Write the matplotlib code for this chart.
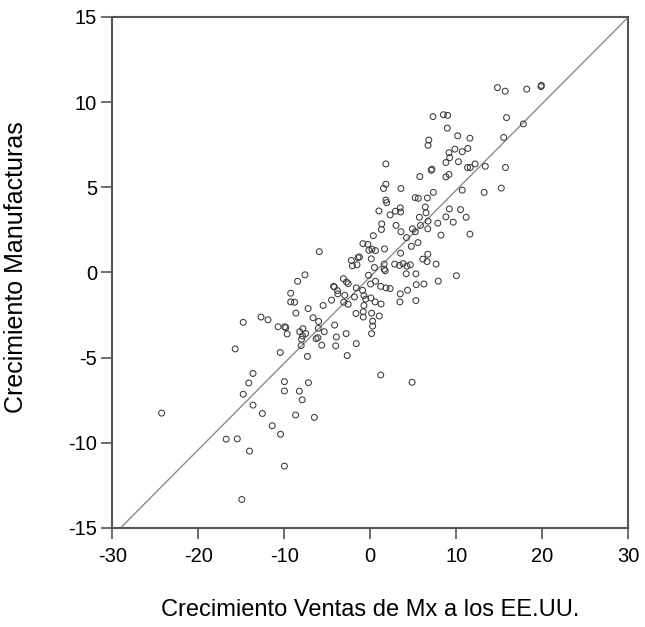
import numpy as np
import matplotlib.pyplot as plt

plt.rcParams['font.family'] = ['Liberation Sans', 'DejaVu Sans']
plt.rcParams['axes.unicode_minus'] = False

# Crecimiento ventas de Mx a EE.UU. (x) vs crecimiento manufacturas (y)
ventas = [
    14.80, 15.69, 18.20, 19.86, 19.90, 7.30, 8.51, 9.00, 15.85, 17.80,
    8.96, 10.17, 11.59, 15.52, 6.81, 6.73, 9.85, 11.35, 9.16, 10.70,
    9.24, 8.80, 10.26, 12.20, 11.31, 11.63, 13.38, 15.73, 1.82, 7.17,
    7.10, 5.76, 8.80, 9.16, 1.82, 1.54, 3.57, 10.70, 13.25, 15.24,
    7.34, 5.23, 5.59, 6.65, 1.82, 1.91, 6.40, 3.49, 1.01, 2.92,
    3.53, 2.31, 9.20, 10.50, 6.49, 5.72, 8.80, 11.15, 6.73, 7.86,
    9.65, 1.34, 3.00, 5.84, 1.30, 4.90, 6.69, 3.57, 5.23, 8.23,
    11.59, 0.36, 4.22, 5.55, 4.78, -0.85, -0.28, 0.20, 0.61, 1.66,
    -0.16, -5.92, 3.53, 6.69, -1.42, -1.26, -2.19, 0.12, 6.12, 6.61,
    -2.07, -1.54, 1.62, 1.62, 2.84, 3.40, 3.81, 4.26, 4.66, 7.66,
    0.49,
    -7.59, -8.44, -3.12, -2.76, -2.56, -0.20, 0.04, 0.61, 1.74, 1.22,
    1.83, 2.31, 4.18, 5.31, 10.02, 5.35, 6.25, 7.91, 4.34, 3.49,
    3.45, 5.31, -9.25, -9.25, -8.80, -8.64, -4.26, -4.18, -3.81, -3.77,
    -1.62, -0.89, -0.73, -0.53, -1.83, 0.08, 0.57, 1.26, -0.73, -3.08,
    -2.56, -2.96, -4.50, -5.48, -7.22, -6.65, -6.00, -6.04, -5.35, -4.14,
    -2.80, -3.94, -1.66, -0.81, -0.81, 0.16, 1.05, 0.28, 0.28, 0.16,
    -1.62, -2.68, -4.02, -5.64, -6.29, -6.09, -7.30, -8.03, -7.99, -7.87,
    -8.19, -7.83, -7.51, -10.71, -9.94, -9.82, -9.66, -12.70, -11.89, -14.77,
    -15.70, -10.47, -13.63, -14.12, -14.77, -13.63, -12.54, -11.40, -10.43, -16.75,
    -15.46, -14.04, -9.98, -14.93, -24.26, -9.98, -9.98, -8.24, -7.91, -7.18,
    -8.68, -6.49, 1.22, 4.87,
]
manufacturas = [
    10.85, 10.64, 10.76, 10.91, 10.98, 9.15, 9.26, 9.22, 9.09, 8.72,
    8.47, 8.02, 7.88, 7.92, 7.77, 7.46, 7.24, 7.28, 7.03, 7.09,
    6.74, 6.45, 6.50, 6.37, 6.16, 6.16, 6.23, 6.16, 6.37, 6.06,
    6.00, 5.63, 5.61, 5.75, 5.18, 4.93, 4.93, 4.83, 4.70, 4.95,
    4.70, 4.39, 4.35, 4.37, 4.25, 4.10, 3.84, 3.79, 3.61, 3.59,
    3.55, 3.38, 3.73, 3.69, 3.50, 3.24, 3.26, 3.24, 3.01, 2.89,
    2.95, 2.85, 2.76, 2.76, 2.52, 2.56, 2.56, 2.39, 2.39, 2.19,
    2.25, 2.16, 2.04, 1.75, 1.53, 1.69, 1.65, 1.36, 1.28, 1.38,
    1.30, 1.22, 1.13, 1.07, 0.87, 0.91, 0.70, 0.80, 0.78, 0.64,
    0.39, 0.45, 0.49, 0.19, 0.49, 0.41, 0.52, 0.37, 0.45, 0.49,
    0.29,
    -0.14, -0.52, -0.37, -0.56, -0.66, -0.17, -0.68, -0.52, 0.10, -0.82,
    -0.91, -0.95, -0.08, -0.08, -0.19, -0.72, -0.68, -0.51, -1.05, -1.26,
    -1.73, -1.65, -1.22, -1.73, -1.75, -2.39, -0.82, -0.85, -1.07, -1.26,
    -0.91, -1.05, -1.36, -1.57, -1.44, -1.50, -1.73, -1.85, -1.94, -1.75,
    -1.87, -1.34, -1.63, -1.94, -2.12, -2.66, -2.88, -3.28, -3.48, -3.09,
    -3.59, -3.79, -2.41, -2.62, -2.31, -2.39, -2.56, -2.86, -3.15, -3.59,
    -4.18, -4.88, -4.31, -4.27, -3.89, -3.83, -4.93, -4.29, -3.92, -3.73,
    -3.48, -3.30, -3.59, -3.19, -3.19, -3.24, -3.61, -2.62, -2.78, -2.93,
    -4.49, -4.70, -5.93, -6.49, -7.15, -7.79, -8.28, -9.00, -9.50, -9.79,
    -9.77, -10.49, -11.37, -13.33, -8.26, -6.41, -6.96, -6.97, -7.48, -6.47,
    -8.37, -8.51, -6.02, -6.45,
]

# recta ajustada
fit_intercept = -0.25
fit_slope = 0.508

x_ticks = [-30, -20, -10, 0, 10, 20, 30]
y_ticks = [-15, -10, -5, 0, 5, 10, 15]

fig = plt.figure(figsize=(6.45, 6.27), dpi=100)
ax = fig.add_axes([0.174, 0.158, 0.800, 0.815])

ax.axline((0, fit_intercept), slope=fit_slope, color='#8c8c8c', lw=1.0, zorder=1)
ax.scatter(ventas, manufacturas, s=18, facecolors='none', edgecolors='#3a3a3a',
           linewidths=0.75, zorder=2)

ax.set_xlim(-30, 30)
ax.set_ylim(-15, 15)
ax.set_xticks(x_ticks)
ax.set_yticks(y_ticks)
ax.tick_params(direction='out', length=8, width=1.2, color='#555555',
               labelsize=14.5)
ax.tick_params(axis='x', pad=6)
ax.tick_params(axis='y', pad=3)
for s in ax.spines.values():
    s.set_color('#555555')
    s.set_linewidth(1.5)

ax.set_xlabel('Crecimiento Ventas de Mx a los EE.UU.', fontsize=17)
ax.set_ylabel('Crecimiento Manufacturas', fontsize=18)
ax.xaxis.set_label_coords(0.5, -0.140)
ax.yaxis.set_label_coords(-0.163, 0.51)

fig.savefig('out.png', dpi=100)
